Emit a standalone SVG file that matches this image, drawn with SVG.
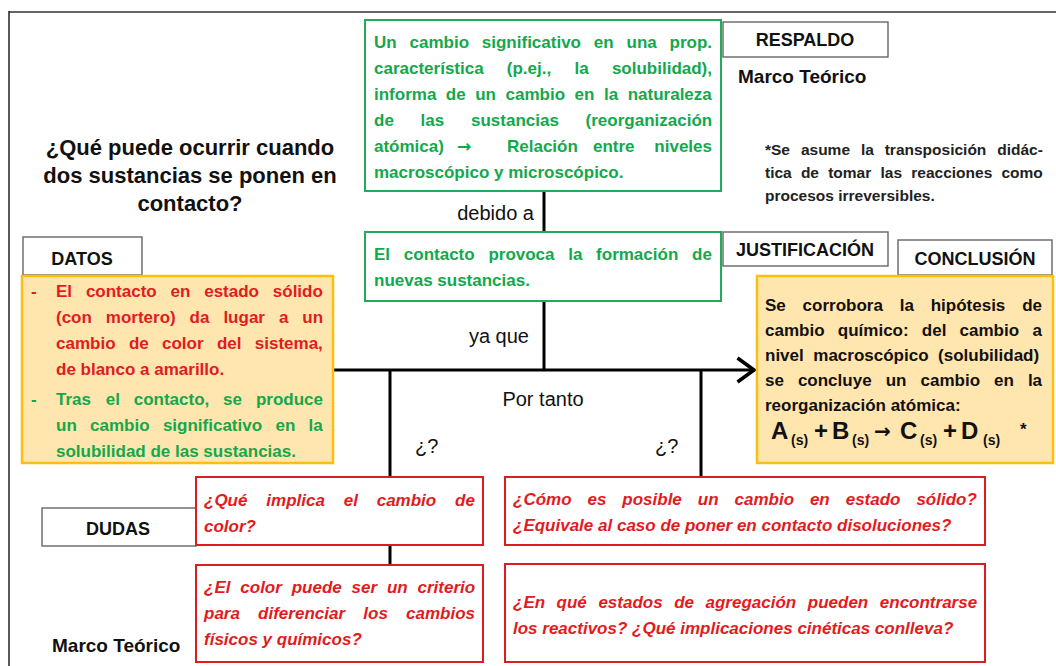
<svg xmlns="http://www.w3.org/2000/svg" width="1056" height="666" viewBox="0 0 1056 666">
<style>
text{font-family:"Liberation Sans",Arial,sans-serif;font-weight:bold;}
.lbl{fill:#fff;stroke:#666;stroke-width:1.4;}
.lt{font-size:18px;fill:#111;text-anchor:middle;}
.gbox{fill:#fff;stroke:#1fae57;stroke-width:2;}
.g{font-size:17px;fill:#13a84c;}
.obox{fill:#ffe5ae;stroke:#fbbf10;stroke-width:2.5;}
.r{font-size:17px;fill:#e31b1e;}
.ri{font-size:17px;fill:#e31b1e;font-style:italic;}
.rbox{fill:#fff;stroke:#dd1c22;stroke-width:2;}
.k{font-size:17px;fill:#111;}
.n{font-size:15.5px;fill:#222;}
.w{font-size:20px;fill:#111;font-weight:normal;}
.e{text-anchor:end;}
.arr{font-family:"DejaVu Sans",sans-serif;}
.ln{stroke:#000;stroke-width:3;fill:none;}
</style>
<defs>
<marker id="ah" markerWidth="8" markerHeight="10" refX="6.5" refY="5" orient="auto" markerUnits="strokeWidth">
<polyline points="1,1 6.5,5 1,9" fill="none" stroke="#000" stroke-width="1.2"/>
</marker>
</defs>
<rect width="1056" height="666" fill="#fff"/>
<g id="frame">
<line x1="9" y1="12" x2="1056" y2="12" stroke="#666" stroke-width="2"/>
<line x1="9" y1="11" x2="9" y2="666" stroke="#222" stroke-width="1.5"/>
</g>

<g id="question">
<text x="190" y="155" font-size="22" text-anchor="middle" fill="#111">¿Qué puede ocurrir cuando</text>
<text x="190" y="183" font-size="22" text-anchor="middle" fill="#111">dos sustancias se ponen en</text>
<text x="190" y="211" font-size="22" text-anchor="middle" fill="#111">contacto?</text>
</g>

<g id="connectors">
<line class="ln" x1="544" y1="191" x2="544" y2="232"/>
<line class="ln" x1="544" y1="301" x2="544" y2="370"/>
<line class="ln" x1="333" y1="370" x2="754" y2="370" marker-end="url(#ah)"/>
<line class="ln" x1="390" y1="369" x2="390" y2="477"/>
<line class="ln" x1="701" y1="369" x2="701" y2="477"/>
<line class="ln" x1="390" y1="545" x2="390" y2="565"/>
<text class="w e" x="534" y="220">debido a</text>
<text class="w e" x="529" y="343">ya que</text>
<text class="w" x="543" y="406" text-anchor="middle">Por tanto</text>
<text class="w" x="415" y="453">¿?</text>
<text class="w" x="655" y="453">¿?</text>
</g>

<g id="respaldo">
<rect class="gbox" x="365" y="20" width="356" height="171"/>
<text class="g" y="48"><tspan x="374">Un</tspan> <tspan x="409.5">cambio</tspan> <tspan x="481.8">significativo</tspan> <tspan x="593.8">en</tspan> <tspan x="626.5">una</tspan> <tspan x="669.6">prop.</tspan></text>
<text class="g" y="74"><tspan x="374">característica</tspan> <tspan x="506.8">(p.ej.,</tspan> <tspan x="574.5">la</tspan> <tspan x="611.9">solubilidad),</tspan></text>
<text class="g" y="100"><tspan x="374">informa</tspan> <tspan x="445.8">de</tspan> <tspan x="475.2">un</tspan> <tspan x="505.5">cambio</tspan> <tspan x="574.6">en</tspan> <tspan x="604">la</tspan> <tspan x="627.7">naturaleza</tspan></text>
<text class="g" y="126"><tspan x="374">de</tspan> <tspan x="420.6">las</tspan> <tspan x="471">sustancias</tspan> <tspan x="585.6">(reorganización</tspan></text>
<text class="g" y="152"><tspan x="374">atómica)</tspan> <tspan class="arr" x="457">→</tspan> <tspan x="507">Relación</tspan> <tspan x="593">entre</tspan> <tspan x="712" text-anchor="end">niveles</tspan></text>
<text class="g" x="374" y="178">macroscópico y microscópico.</text>
</g>

<g id="respaldo-label">
<rect class="lbl" x="723" y="22" width="165" height="35"/>
<text class="lt" x="805" y="46" font-size="17.5">RESPALDO</text>
<text x="738" y="83" font-size="19" fill="#111">Marco Teórico</text>
</g>

<g id="note">
<text class="n" y="155"><tspan x="765">*Se</tspan> <tspan x="800.9">asume</tspan> <tspan x="860.9">la</tspan> <tspan x="884.7">transposición</tspan> <tspan x="997.2">didác-</tspan></text>
<text class="n" y="178"><tspan x="765">tica</tspan> <tspan x="800.9">de</tspan> <tspan x="828.2">tomar</tspan> <tspan x="880.5">las</tspan> <tspan x="911.3">reacciones</tspan> <tspan x="1001.5">como</tspan></text>
<text class="n" x="765" y="201">procesos irreversibles.</text>
</g>

<g id="justificacion">
<rect class="gbox" x="365" y="232" width="356" height="69"/>
<text class="g" y="260"><tspan x="374">El</tspan> <tspan x="403.8">contacto</tspan> <tspan x="488.4">provoca</tspan> <tspan x="568.2">la</tspan> <tspan x="596.1">formación</tspan> <tspan x="692">de</tspan></text>
<text class="g" x="374" y="286">nuevas sustancias.</text>
</g>

<g id="justificacion-label">
<rect class="lbl" x="723" y="232" width="165" height="34"/>
<text class="lt" x="805" y="256" font-size="17.5">JUSTIFICACIÓN</text>
</g>

<g id="datos-label">
<rect class="lbl" x="23" y="237" width="119" height="38"/>
<text class="lt" x="82" y="265" font-size="19">DATOS</text>
</g>

<g id="datos">
<rect class="obox" x="22" y="276" width="311" height="187"/>
<text class="r" x="31" y="297">-</text>
<text class="r" y="297"><tspan x="56">El</tspan> <tspan x="85.9">contacto</tspan> <tspan x="170.6">en</tspan> <tspan x="204.2">estado</tspan> <tspan x="272.8">sólido</tspan></text>
<text class="r" y="323"><tspan x="56">(con</tspan> <tspan x="105.8">mortero)</tspan> <tspan x="189.6">da</tspan> <tspan x="223.4">lugar</tspan> <tspan x="278.9">a</tspan> <tspan x="302.3">un</tspan></text>
<text class="r" y="349"><tspan x="56">cambio</tspan> <tspan x="128.9">de</tspan> <tspan x="162">color</tspan> <tspan x="216.9">del</tspan> <tspan x="254.8">sistema,</tspan></text>
<text class="r" x="56" y="375">de blanco a amarillo.</text>
<text class="g" x="31" y="405">-</text>
<text class="g" y="405"><tspan x="56">Tras</tspan> <tspan x="105.7">el</tspan> <tspan x="133.7">contacto,</tspan> <tspan x="223.1">se</tspan> <tspan x="255.9">produce</tspan></text>
<text class="g" y="431"><tspan x="56">un</tspan> <tspan x="90.1">cambio</tspan> <tspan x="162.9">significativo</tspan> <tspan x="275.5">en</tspan> <tspan x="308.6">la</tspan></text>
<text class="g" x="56" y="457">solubilidad de las sustancias.</text>
</g>

<g id="conclusion-label">
<rect class="lbl" x="898" y="240" width="154" height="35"/>
<text class="lt" x="975" y="265" font-size="18.5">CONCLUSIÓN</text>
</g>

<g id="conclusion">
<rect class="obox" x="757" y="276" width="296" height="187"/>
<text class="k" y="311"><tspan x="765">Se</tspan> <tspan x="802.6">corrobora</tspan> <tspan x="899.7">la</tspan> <tspan x="930.7">hipótesis</tspan> <tspan x="1022.2">de</tspan></text>
<text class="k" y="336"><tspan x="765">cambio</tspan> <tspan x="837.8">químico:</tspan> <tspan x="921.8">del</tspan> <tspan x="959.6">cambio</tspan> <tspan x="1032.4">a</tspan></text>
<text class="k" y="361"><tspan x="765">nivel</tspan> <tspan x="813.3">macroscópico</tspan> <tspan x="938.1">(solubilidad)</tspan></text>
<text class="k" y="386"><tspan x="765">se</tspan> <tspan x="797.9">concluye</tspan> <tspan x="885.7">un</tspan> <tspan x="920.5">cambio</tspan> <tspan x="994">en</tspan> <tspan x="1027.9">la</tspan></text>
<text class="k" x="765" y="411">reorganización atómica:</text>
<text fill="#111" font-size="24" y="439"><tspan x="771">A</tspan><tspan x="791" y="445" font-size="14">(s)</tspan><tspan x="814" y="439">+</tspan><tspan x="832">B</tspan><tspan x="852" y="445" font-size="14">(s)</tspan><tspan class="arr" x="874" y="438" font-size="20">→</tspan><tspan x="900" y="439">C</tspan><tspan x="920" y="445" font-size="14">(s)</tspan><tspan x="943" y="439">+</tspan><tspan x="961">D</tspan><tspan x="983" y="445" font-size="14">(s)</tspan><tspan x="1020" y="435" font-size="17">*</tspan></text>
</g>

<g id="dudas-label">
<rect class="lbl" x="42" y="508" width="154" height="38"/>
<text class="lt" x="118" y="535" font-size="20">DUDAS</text>
</g>

<g id="duda1">
<rect class="rbox" x="196" y="477" width="287" height="68"/>
<text class="ri" y="506"><tspan x="204">¿Qué</tspan> <tspan x="266.3">implica</tspan> <tspan x="343.7">el</tspan> <tspan x="376.7">cambio</tspan> <tspan x="455.1">de</tspan></text>
<text class="ri" x="204" y="532">color?</text>
</g>

<g id="duda2">
<rect class="rbox" x="196" y="565" width="287" height="97"/>
<text class="ri" y="593"><tspan x="204">¿El</tspan> <tspan x="240.3">color</tspan> <tspan x="291.7">puede</tspan> <tspan x="351.6">ser</tspan> <tspan x="386.9">un</tspan> <tspan x="417.5">criterio</tspan></text>
<text class="ri" y="619"><tspan x="204">para</tspan> <tspan x="258.1">diferenciar</tspan> <tspan x="363.3">los</tspan> <tspan x="406.1">cambios</tspan></text>
<text class="ri" x="204" y="645">físicos y químicos?</text>
</g>

<g id="duda3">
<rect class="rbox" x="505" y="477" width="480" height="68"/>
<text class="ri" y="505"><tspan x="513">¿Cómo</tspan> <tspan x="587.5">es</tspan> <tspan x="622.3">posible</tspan> <tspan x="697.8">un</tspan> <tspan x="734.5">cambio</tspan> <tspan x="809.9">en</tspan> <tspan x="845.7">estado</tspan> <tspan x="916.4">sólido?</tspan></text>
<text class="ri" x="513" y="531">¿Equivale al caso de poner en contacto disoluciones?</text>
</g>

<g id="duda4">
<rect class="rbox" x="505" y="564" width="480" height="98"/>
<text class="ri" y="608"><tspan x="513">¿En</tspan> <tspan x="556.6">qué</tspan> <tspan x="598.4">estados</tspan> <tspan x="674.2">de</tspan> <tspan x="705.5">agregación</tspan> <tspan x="807.8">pueden</tspan> <tspan x="879.8">encontrarse</tspan></text>
<text class="ri" x="513" y="634">los reactivos? ¿Qué implicaciones cinéticas conlleva?</text>
</g>

<g id="marco-bottom">
<text x="52" y="652" font-size="19" fill="#111">Marco Teórico</text>
</g>
</svg>
